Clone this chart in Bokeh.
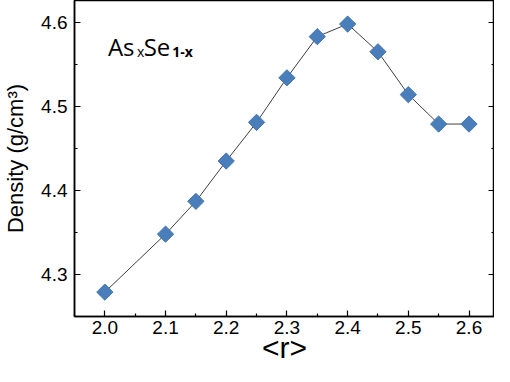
import numpy as np
from bokeh.plotting import figure
from bokeh.models import LinearAxis, Range1d, FixedTicker, Label, NumeralTickFormatter
from bokeh.embed import file_html
from bokeh.resources import INLINE

r_vals = [2.0, 2.1, 2.15, 2.2, 2.25, 2.3, 2.35, 2.4, 2.45, 2.5, 2.55, 2.6]
density = [4.279, 4.348, 4.387, 4.435, 4.481, 4.534, 4.583, 4.598, 4.565, 4.514, 4.479, 4.479]
x_ticks = [2.0, 2.1, 2.2, 2.3, 2.4, 2.5, 2.6]
x_minor = [1.95, 2.05, 2.15, 2.25, 2.35, 2.45, 2.55]
y_ticks = [4.3, 4.4, 4.5, 4.6]
y_minor = [4.25, 4.35, 4.45, 4.55]

TICK_FONT = "Liberation Sans"
ANN_FONT = "Open Sans"

p = figure(width=494, height=366, output_backend="svg", toolbar_location=None,
           x_range=Range1d(1.95, 2.642), y_range=Range1d(4.25, 4.626),
           min_border_left=71, min_border_right=0, min_border_top=0, min_border_bottom=0)
p.outline_line_color = "black"
p.outline_line_width = 1.5
p.xgrid.visible = False
p.ygrid.visible = False
p.background_fill_color = "white"

def style_axis(ax, ticks, minor, show_labels=True):
    ax.ticker = FixedTicker(ticks=ticks, minor_ticks=minor)
    ax.axis_line_color = "black"
    ax.axis_line_width = 1.5
    ax.major_tick_in = 6
    ax.major_tick_out = 0
    ax.minor_tick_in = 3
    ax.minor_tick_out = 0
    ax.major_tick_line_color = "black"
    ax.minor_tick_line_color = "black"
    ax.major_tick_line_width = 1.2
    ax.minor_tick_line_width = 1.2
    ax.major_label_text_font = TICK_FONT
    ax.major_label_text_font_size = "19px"
    ax.major_label_text_color = "black"
    ax.formatter = NumeralTickFormatter(format="0.0")
    if not show_labels:
        ax.major_label_overrides = {t: "" for t in ticks}
        ax.major_label_text_font_size = "0px"
        ax.major_label_text_alpha = 0
        ax.major_label_standoff = 0
        ax.axis_label_standoff = 0

style_axis(p.xaxis[0], x_ticks, x_minor)
style_axis(p.yaxis[0], y_ticks, y_minor)
p.xaxis[0].major_label_standoff = 4
p.yaxis[0].major_label_standoff = 7

p.xaxis.axis_label = "<r>"
p.xaxis.axis_label_text_font = TICK_FONT
p.xaxis.axis_label_text_font_size = "30px"
p.xaxis.axis_label_text_font_style = "normal"
p.xaxis.axis_label_text_color = "black"
p.xaxis.axis_label_standoff = -6

p.yaxis.axis_label = "Density (g/cm³)"
p.yaxis.axis_label_text_font = TICK_FONT
p.yaxis.axis_label_text_font_size = "22px"
p.yaxis.axis_label_text_font_style = "normal"
p.yaxis.axis_label_text_color = "black"
p.yaxis.axis_label_standoff = 10

right = LinearAxis()
style_axis(right, y_ticks, y_minor, show_labels=False)
p.add_layout(right, "right")

p.line(r_vals, density, line_color="#404040", line_width=1)
p.scatter(r_vals, density, marker="square", size=11.5, angle=np.pi / 4,
          fill_color="#4a7ebb", line_color="#4375b0", line_width=1)

labels = [
    ("As", 2.005, 4.571, "24px", "normal"),
    ("x", 2.053, 4.565, "14px", "normal"),
    ("Se", 2.064, 4.571, "24px", "normal"),
    ("1-x", 2.111, 4.565, "14px", "bold"),
]
for txt, lx, ly, fs, st in labels:
    p.add_layout(Label(x=lx, y=ly, text=txt, text_font=ANN_FONT, text_font_size=fs,
                       text_font_style=st, text_color="black", text_baseline="alphabetic"))

open("out.html", "w").write(file_html(p, INLINE))
